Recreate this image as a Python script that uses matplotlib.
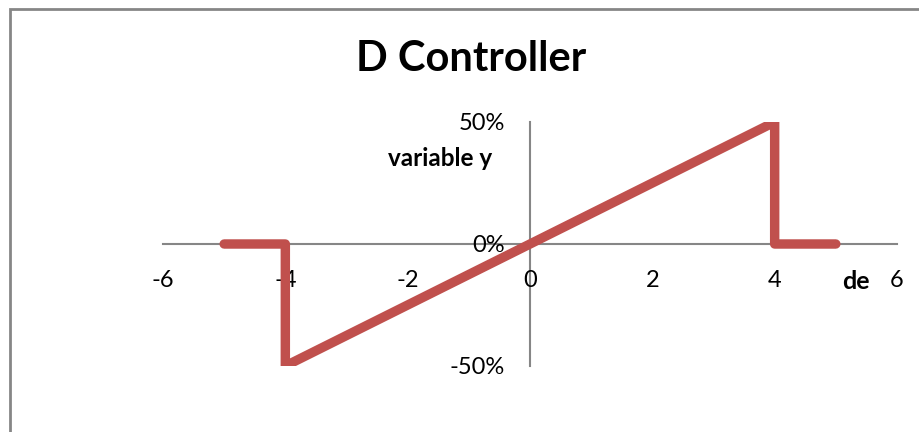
import matplotlib
matplotlib.use("Agg")
import matplotlib.pyplot as plt
from matplotlib.patches import Rectangle

plt.rcParams['font.family'] = ['Lato', 'DejaVu Sans']

# data: D controller output vs de
de_vals = [-5, -4, -4, 4, 4, 5]
y_vals = [0.0, 0.0, -0.5, 0.5, 0.0, 0.0]

x_ticks = [-6, -4, -2, 0, 2, 4, 6]
y_ticks = [-0.5, 0.0, 0.5]
y_labels = ['-50%', '0%', '50%']

axis_grey = '#868686'
line_red = '#C0504D'

fig = plt.figure(figsize=(9.2, 4.32), dpi=100)
W, H = 920, 432

# chart area border (only left and top visible in the crop)
fig.add_artist(Rectangle((10 / W, -0.5), 2, 1.5 - 9 / H, transform=fig.transFigure,
                         fill=False, edgecolor=axis_grey, lw=2))

ax = fig.add_axes([163 / W, 1 - 366 / H, (897 - 163) / W, (366 - 122) / H])
ax.plot(de_vals, y_vals, color=line_red, lw=6.8, solid_capstyle='round',
        solid_joinstyle='round')

ax.set_xlim(-6, 6)
ax.set_ylim(-0.5, 0.5)

for side in ['top', 'right']:
    ax.spines[side].set_visible(False)
ax.spines['left'].set_position(('data', 0))
ax.spines['bottom'].set_position(('data', 0))
for side in ['left', 'bottom']:
    ax.spines[side].set_color(axis_grey)
    ax.spines[side].set_linewidth(1.5)
    ax.spines[side].set_zorder(0)

ax.set_xticks(x_ticks)
ax.set_xticklabels([str(t) for t in x_ticks])
ax.set_yticks(y_ticks)
ax.set_yticklabels(y_labels)
ax.tick_params(axis='x', length=0, pad=19, labelsize=17)
ax.tick_params(axis='y', length=0, pad=18, labelsize=17)
ax.patch.set_visible(False)

# axis titles
ax.text(5.33, -0.155, 'de', fontsize=18, fontweight='bold', ha='center', va='center')
ax.text(-1.47, 0.35, 'variable y', fontsize=17.5, fontweight='bold', ha='center', va='center')

fig.text(471 / W, 1 - 59 / H, 'D Controller', fontsize=30, fontweight='bold',
         ha='center', va='center')

fig.savefig('out.png', dpi=100)
